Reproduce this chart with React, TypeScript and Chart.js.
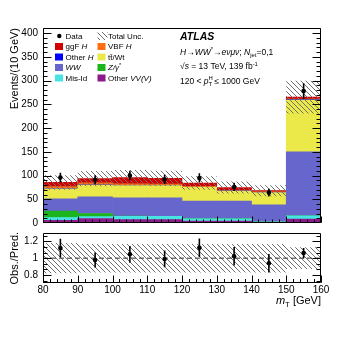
import React, { useEffect, useRef } from "react";
import { Chart, registerables } from "chart.js";
Chart.register(...registerables);

const FONT = "'Liberation Sans', Arial, Helvetica, sans-serif";

// ---- data ----
const binEdges = [80, 90, 100, 110, 120, 130, 140, 150, 160];
const binCenters = [85, 95, 105, 115, 125, 135, 145, 155];
const otherVV = [5.5, 9.5, 7, 7, 4, 4, 2, 8.5];
const misId = [6, 4, 7, 7, 5, 5, 1, 6.5];
const zGamma = [13.5, 6.5, 0.5, 0.3, 0.5, 0.3, 0.3, 0.3];
const wwBkg = [26, 35, 38.5, 38.7, 36.5, 37, 35, 134.7];
const ttWt = [21, 25, 26, 26, 29, 21, 26, 109];
const otherH = [0.5, 0.5, 0.5, 0.5, 0.3, 0.3, 0.3, 1];
const vbfH = [4, 4, 3, 2.5, 2, 1.5, 1, 1];
const ggfH = [9, 9, 13, 12, 7, 5.5, 2.5, 4.5];
const dataObs = [96, 91, 100, 92, 95, 76, 64, 278];
const dataErr = [10, 9.5, 10, 9.6, 9.7, 8.7, 8, 16.7];
const relUnc = [0.18, 0.17, 0.17, 0.17, 0.17, 0.17, 0.17, 0.13];
const ratioObs = [1.12, 0.977, 1.046, 0.99, 1.123, 1.023, 0.94, 1.06];
const ratioErr = [0.11, 0.09, 0.1, 0.1, 0.11, 0.11, 0.11, 0.06];

const mainYTicks = [0, 50, 100, 150, 200, 250, 300, 350, 400];
const ratioYTicks = [0.8, 1, 1.2];
const xTicks = [80, 90, 100, 110, 120, 130, 140, 150, 160];

const stackSeries = [
  { label: "Other VV(V)", values: otherVV, color: "#8c1a8c" },
  { label: "Mis-Id", values: misId, color: "#48e4e4" },
  { label: "Z/γ*", values: zGamma, color: "#1cb41c" },
  { label: "WW", values: wwBkg, color: "#6666cc" },
  { label: "tt̄/Wt", values: ttWt, color: "#ebe84a" },
  { label: "Other H", values: otherH, color: "#0000ff" },
  { label: "VBF H", values: vbfH, color: "#ff6c12" },
  { label: "ggF H", values: ggfH, color: "#d40000" },
];

type Seg = { t: string; i?: boolean; b?: boolean; sub?: boolean; sup?: boolean; noAdv?: boolean };

function drawRich(ctx: CanvasRenderingContext2D, segs: Seg[], x: number, y: number, size: number, align: "left" | "right" = "left") {
  const fontOf = (s: Seg) =>
    `${s.i ? "italic " : ""}${s.b ? "bold " : ""}${s.sub || s.sup ? (size * 0.7).toFixed(1) : size}px ${FONT}`;
  const widths = segs.map((s) => {
    ctx.font = fontOf(s);
    return s.noAdv ? 0 : ctx.measureText(s.t).width;
  });
  let cx = align === "right" ? x - widths.reduce((a, b) => a + b, 0) : x;
  ctx.textAlign = "left";
  ctx.textBaseline = "alphabetic";
  ctx.fillStyle = "#000";
  segs.forEach((s, i) => {
    ctx.font = fontOf(s);
    const dy = s.sub ? size * 0.3 : s.sup ? -size * 0.4 : 0;
    ctx.fillText(s.t, cx, y + dy);
    cx += widths[i];
  });
}

function makeHatch(): CanvasPattern | string {
  const c = document.createElement("canvas");
  const s = 5;
  c.width = s;
  c.height = s;
  const g = c.getContext("2d");
  if (!g) return "rgba(120,120,120,0.4)";
  g.strokeStyle = "#707070";
  g.lineWidth = 1;
  g.beginPath();
  g.moveTo(-1, -1);
  g.lineTo(s + 1, s + 1);
  g.moveTo(-1, s - 1);
  g.lineTo(1, s + 1);
  g.moveTo(s - 1, -1);
  g.lineTo(s + 1, 1);
  g.stroke();
  return g.createPattern(c, "repeat") || "rgba(120,120,120,0.4)";
}

function rangeStep(a: number, b: number, step: number): number[] {
  const out: number[] = [];
  const n = Math.round((b - a) / step);
  for (let k = 0; k <= n; k++) out.push(a + k * step);
  return out;
}

function drawFrameTicks(
  chart: any,
  yMajor: number[],
  yMinor: number[],
  xMajor: number[],
  xMinor: number[],
  yMaj: number,
  yMin: number,
  xMaj: number,
  xMin: number
) {
  const { ctx, chartArea: a } = chart;
  const xs = chart.scales.x;
  const ys = chart.scales.y;
  const L = Math.round(a.left) + 0.5;
  const R = Math.round(a.right) - 0.5;
  const T = Math.round(a.top) + 0.5;
  const B = Math.round(a.bottom) - 0.5;
  ctx.save();
  ctx.strokeStyle = "#000";
  ctx.lineWidth = 1;
  ctx.beginPath();
  const yt = (vals: number[], len: number) => {
    for (const v of vals) {
      const p = Math.round(ys.getPixelForValue(v)) + 0.5;
      if (p < T - 0.1 || p > B + 0.6) continue;
      ctx.moveTo(L, p);
      ctx.lineTo(L + len, p);
      ctx.moveTo(R, p);
      ctx.lineTo(R - len, p);
    }
  };
  const xt = (vals: number[], len: number) => {
    for (const v of vals) {
      const p = Math.round(xs.getPixelForValue(v)) + 0.5;
      ctx.moveTo(p, B);
      ctx.lineTo(p, B - len);
    }
  };
  yt(yMinor, yMin);
  yt(yMajor, yMaj);
  xt(xMinor, xMin);
  xt(xMajor, xMaj);
  ctx.rect(L, T, R - L, B - T);
  ctx.stroke();
  ctx.restore();
}

function drawErrBars(chart: any, xsv: number[], vals: number[], errs: number[]) {
  const { ctx } = chart;
  const xs = chart.scales.x;
  const ys = chart.scales.y;
  ctx.save();
  ctx.strokeStyle = "#000";
  ctx.lineWidth = 1.6;
  ctx.beginPath();
  xsv.forEach((x, i) => {
    const px = xs.getPixelForValue(x);
    ctx.moveTo(px, ys.getPixelForValue(vals[i] - errs[i]));
    ctx.lineTo(px, ys.getPixelForValue(vals[i] + errs[i]));
  });
  ctx.stroke();
  ctx.restore();
}

export default function App() {
  const mainRef = useRef<HTMLCanvasElement>(null);
  const ratioRef = useRef<HTMLCanvasElement>(null);

  useEffect(() => {
    Chart.defaults.font.family = FONT;
    Chart.defaults.color = "#000";
    const hatch = makeHatch();
    const total = binCenters.map((_, i) => stackSeries.reduce((s, d) => s + d.values[i], 0));
    const edgeVal = (arr: number[], i: number) => arr[Math.min(i, arr.length - 1)];
    const upper = binCenters.map((_, i) => total[i] * (1 + relUnc[i]));
    const lower = binCenters.map((_, i) => total[i] * (1 - relUnc[i]));

    const mainYMinor = rangeStep(0, 410, 10);
    const xMinor = rangeStep(80, 160, 2);
    const ratioYMinor = rangeStep(0.8 - 0.2 / 3, 1.2 + 0.2 / 3, 0.2 / 3);

    const legendBoxes: { col: number; row: number; color: string; segs: Seg[] }[] = [
      { col: 0, row: 1, color: "#d40000", segs: [{ t: "ggF " }, { t: "H", i: true }] },
      { col: 1, row: 1, color: "#ff6c12", segs: [{ t: "VBF " }, { t: "H", i: true }] },
      { col: 0, row: 2, color: "#0000ff", segs: [{ t: "Other " }, { t: "H", i: true }] },
      { col: 1, row: 2, color: "#ebe84a", segs: [{ t: "tt\u0304/Wt" }] },
      { col: 0, row: 3, color: "#6666cc", segs: [{ t: "WW", i: true }] },
      { col: 1, row: 3, color: "#1cb41c", segs: [{ t: "Z/γ", i: true }, { t: "*", sup: true }] },
      { col: 0, row: 4, color: "#48e4e4", segs: [{ t: "Mis-Id" }] },
      { col: 1, row: 4, color: "#8c1a8c", segs: [{ t: "Other " }, { t: "VV(V)", i: true }] },
    ];
    const rowY = [36, 46.5, 57, 67.5, 78];
    const boxX = [55, 97.5];
    const textX = [65.5, 108];

    const mainDecor = {
      id: "mainDecor",
      afterDraw(chart: any) {
        const { ctx } = chart;
        drawFrameTicks(chart, mainYTicks, mainYMinor, xTicks, xMinor, 8, 4, 6, 3);
        drawErrBars(chart, binCenters, dataObs, dataErr);
        // legend
        ctx.save();
        ctx.fillStyle = "#000";
        ctx.beginPath();
        ctx.arc(59.3, rowY[0], 2.2, 0, Math.PI * 2);
        ctx.fill();
        drawRich(ctx, [{ t: "Data" }], textX[0], rowY[0] + 2.9, 8);
        ctx.fillStyle = hatch as any;
        ctx.fillRect(boxX[1], rowY[0] - 4, 10, 8);
        drawRich(ctx, [{ t: "Total Unc." }], textX[1], rowY[0] + 2.9, 8);
        for (const lb of legendBoxes) {
          ctx.fillStyle = lb.color;
          ctx.fillRect(boxX[lb.col], rowY[lb.row] - 3.5, 8, 7);
          drawRich(ctx, lb.segs, textX[lb.col], rowY[lb.row] + 2.9, 8);
        }
        // ATLAS label
        drawRich(ctx, [{ t: "ATLAS", i: true, b: true }], 180, 40.3, 10.5);
        drawRich(
          ctx,
          [
            { t: "H", i: true },
            { t: "→" },
            { t: "WW", i: true },
            { t: "*", sup: true },
            { t: "→" },
            { t: "eνμν", i: true },
            { t: "; " },
            { t: "N", i: true },
            { t: "jet", sub: true },
            { t: "=0,1" },
          ],
          180,
          54.5,
          8.5
        );
        drawRich(
          ctx,
          [{ t: "√" }, { t: "s", i: true }, { t: " = 13 TeV, 139 fb" }, { t: "-1", sup: true }],
          180,
          69,
          8.5
        );
        drawRich(
          ctx,
          [{ t: "120 < " }, { t: "p", i: true }, { t: "H", sup: true, noAdv: true }, { t: "T", sub: true }, { t: " ≤ 1000 GeV" }],
          180,
          83.5,
          8.5
        );
        ctx.restore();
      },
    };

    const ratioDecor = {
      id: "ratioDecor",
      afterDraw(chart: any) {
        const { ctx } = chart;
        drawFrameTicks(chart, ratioYTicks, ratioYMinor, xTicks, xMinor, 8, 4, 7, 3.5);
        drawErrBars(chart, binCenters, ratioObs, ratioErr);
        drawRich(ctx, [{ t: "m", i: true }, { t: "T", sub: true }, { t: " [GeV]" }], 321, 82, 11, "right");
      },
    };

    const barSets = stackSeries.map((s) => ({
      type: "bar" as const,
      label: s.label,
      data: binCenters.map((x, i) => ({ x, y: s.values[i] })),
      backgroundColor: s.color,
      borderWidth: 0,
      barPercentage: 1,
      categoryPercentage: 1,
      stack: "bkg",
      order: 3,
    }));

    const main = new Chart(mainRef.current as HTMLCanvasElement, {
      type: "bar",
      data: {
        datasets: [
          ...barSets,
          {
            type: "line",
            label: "unc_up",
            data: binEdges.map((x, i) => ({ x, y: edgeVal(upper, i) })),
            stepped: true,
            fill: "+1",
            backgroundColor: hatch as any,
            borderWidth: 0,
            borderColor: "transparent",
            pointRadius: 0,
            stack: "uu",
            order: 2,
          } as any,
          {
            type: "line",
            label: "unc_dn",
            data: binEdges.map((x, i) => ({ x, y: edgeVal(lower, i) })),
            stepped: true,
            fill: false,
            borderWidth: 0,
            borderColor: "transparent",
            pointRadius: 0,
            stack: "ud",
            order: 2,
          } as any,
          {
            type: "line",
            label: "Data",
            data: binCenters.map((x, i) => ({ x, y: dataObs[i] })),
            showLine: false,
            pointRadius: 2.3,
            pointBackgroundColor: "#000",
            pointBorderColor: "#000",
            pointBorderWidth: 0,
            stack: "obs",
            order: 1,
          } as any,
        ],
      },
      options: {
        responsive: false,
        animation: false,
        devicePixelRatio: 1,
        events: [],
        layout: { padding: { top: 28, right: 36, bottom: 8.5, left: 0 } },
        plugins: { legend: { display: false }, tooltip: { enabled: false } },
        scales: {
          x: { type: "linear", min: 80, max: 160, stacked: true, offset: false, display: false },
          y: {
            type: "linear",
            min: 0,
            max: 411,
            stacked: true,
            grid: { display: false, drawTicks: false },
            border: { display: false },
            afterBuildTicks: (s: any) => {
              s.ticks = mainYTicks.map((v) => ({ value: v }));
            },
            afterFit: (s: any) => {
              s.width = 43;
            },
            ticks: { padding: 5, font: { size: 10 }, color: "#000", callback: (v: any) => String(v) },
            title: {
              display: true,
              text: "Events/(10 GeV)",
              align: "end",
              font: { size: 11 },
              color: "#000",
              padding: { top: 8, bottom: 0 },
            },
          },
        } as any,
      },
      plugins: [mainDecor],
    });

    const ratio = new Chart(ratioRef.current as HTMLCanvasElement, {
      type: "line",
      data: {
        datasets: [
          {
            label: "r_up",
            data: binEdges.map((x, i) => ({ x, y: 1 + edgeVal(relUnc, i) })),
            stepped: true,
            fill: "+1",
            backgroundColor: hatch as any,
            borderWidth: 0,
            borderColor: "transparent",
            pointRadius: 0,
            order: 3,
          } as any,
          {
            label: "r_dn",
            data: binEdges.map((x, i) => ({ x, y: 1 - edgeVal(relUnc, i) })),
            stepped: true,
            fill: false,
            borderWidth: 0,
            borderColor: "transparent",
            pointRadius: 0,
            order: 3,
          } as any,
          {
            label: "one",
            data: [
              { x: 80, y: 1 },
              { x: 160, y: 1 },
            ],
            borderColor: "#333",
            borderWidth: 1,
            borderDash: [5, 3],
            pointRadius: 0,
            fill: false,
            order: 2,
          } as any,
          {
            label: "ratio",
            data: binCenters.map((x, i) => ({ x, y: ratioObs[i] })),
            showLine: false,
            pointRadius: 2.3,
            pointBackgroundColor: "#000",
            pointBorderColor: "#000",
            pointBorderWidth: 0,
            order: 1,
          } as any,
        ],
      },
      options: {
        responsive: false,
        animation: false,
        devicePixelRatio: 1,
        events: [],
        layout: { padding: { top: 10.3, right: 36, bottom: 43.7, left: 0 } },
        plugins: { legend: { display: false }, tooltip: { enabled: false } },
        scales: {
          x: {
            type: "linear",
            min: 80,
            max: 160,
            offset: false,
            grid: { display: false, drawTicks: false },
            border: { display: false },
            afterBuildTicks: (s: any) => {
              s.ticks = xTicks.map((v) => ({ value: v }));
            },
            afterFit: (s: any) => {
              s.height = 20;
            },
            ticks: {
              padding: 1,
              font: { size: 10 },
              color: "#000",
              maxRotation: 0,
              autoSkip: false,
              callback: (v: any) => String(v),
            },
          },
          y: {
            type: "linear",
            min: 0.7,
            max: 1.3,
            grid: { display: false, drawTicks: false },
            border: { display: false },
            afterBuildTicks: (s: any) => {
              s.ticks = ratioYTicks.map((v) => ({ value: v }));
            },
            afterFit: (s: any) => {
              s.width = 43;
            },
            ticks: { padding: 5, font: { size: 10 }, color: "#000", callback: (v: any) => String(v) },
            title: {
              display: true,
              text: "Obs./Pred.",
              align: "center",
              font: { size: 11 },
              color: "#000",
              padding: { top: 8, bottom: 0 },
            },
          },
        } as any,
      },
      plugins: [ratioDecor],
    });

    return () => {
      main.destroy();
      ratio.destroy();
    };
  }, []);

  return (
    <div style={{ position: "absolute", left: 0, top: 0, width: 357, height: 347, background: "#fff" }}>
      <canvas ref={mainRef} width={357} height={234} style={{ position: "absolute", left: 0, top: 0 }} />
      <canvas ref={ratioRef} width={357} height={125} style={{ position: "absolute", left: 0, top: 222 }} />
    </div>
  );
}
